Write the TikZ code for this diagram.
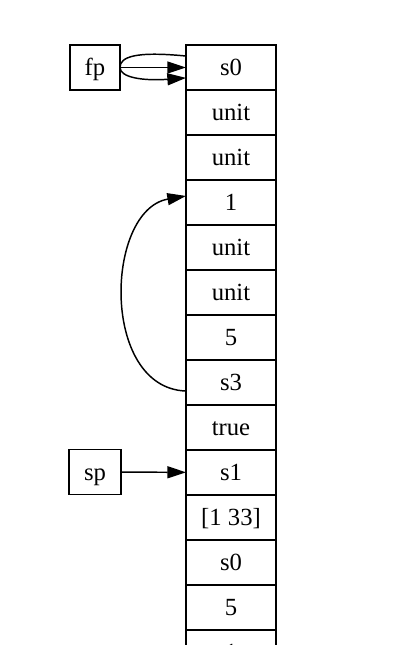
\documentclass[tikz,border=0pt]{standalone}
\usepackage{fontspec}
\setmainfont{Liberation Serif}
\usetikzlibrary{positioning,arrows.meta}

\tikzset{
  cell/.style={draw, minimum width=67.5pt, minimum height=33.75pt, inner sep=0pt, outer sep=0pt, text height=12.6pt, text depth=0pt, font=\fontsize{18.5}{20}\selectfont},
  reg/.style={draw, minimum width=37.5pt, minimum height=33.75pt, inner sep=0pt, outer sep=0pt, text height=12.6pt, text depth=0pt, font=\fontsize{18.5}{20}\selectfont},
  ptr/.style={-{Triangle[length=14pt,width=9pt]}}
}

\begin{document}
\begin{tikzpicture}[x=0.75pt, y=-0.75pt, line width=1.1pt]

\useasboundingbox (0,0) rectangle (411,645);
\clip (0,0) rectangle (411,645);

\node[cell] (s0) at (231,67.5) {s0};
\node[cell, below=0pt of s0] (unitA) {unit};
\node[cell, below=0pt of unitA] (unitB) {unit};
\node[cell, below=0pt of unitB] (one) {1};
\node[cell, below=0pt of one] (unitC) {unit};
\node[cell, below=0pt of unitC] (unitD) {unit};
\node[cell, below=0pt of unitD] (five) {5};
\node[cell, below=0pt of five] (s3) {s3};
\node[cell, below=0pt of s3] (true) {true};
\node[cell, below=0pt of true] (s1) {s1};
\node[cell, below=0pt of s1] (pair) {[1 33]};
\node[cell, below=0pt of pair] (s0b) {s0};
\node[cell, below=0pt of s0b] (fiveb) {5};
\node[cell, below=0pt of fiveb] (oneb) {1};

\node[reg] (fp) at (95,67.5) {fp};
\node[reg, minimum width=39pt] (sp) at (95,472) {sp};

\draw[ptr] (fp) -- (s0);
\draw[ptr] ([yshift=8.6pt]s0.west) .. controls (135,51) and (120,57) .. (fp.east) .. controls (120,78) and (145,81) .. ([yshift=-7.8pt]s0.west);

\draw[ptr] (sp) -- (s1);

\draw[ptr] ([yshift=-6.4pt]s3.west) .. controls (100,388) and (105,210) .. ([yshift=4.9pt]one.west);

\end{tikzpicture}
\end{document}
